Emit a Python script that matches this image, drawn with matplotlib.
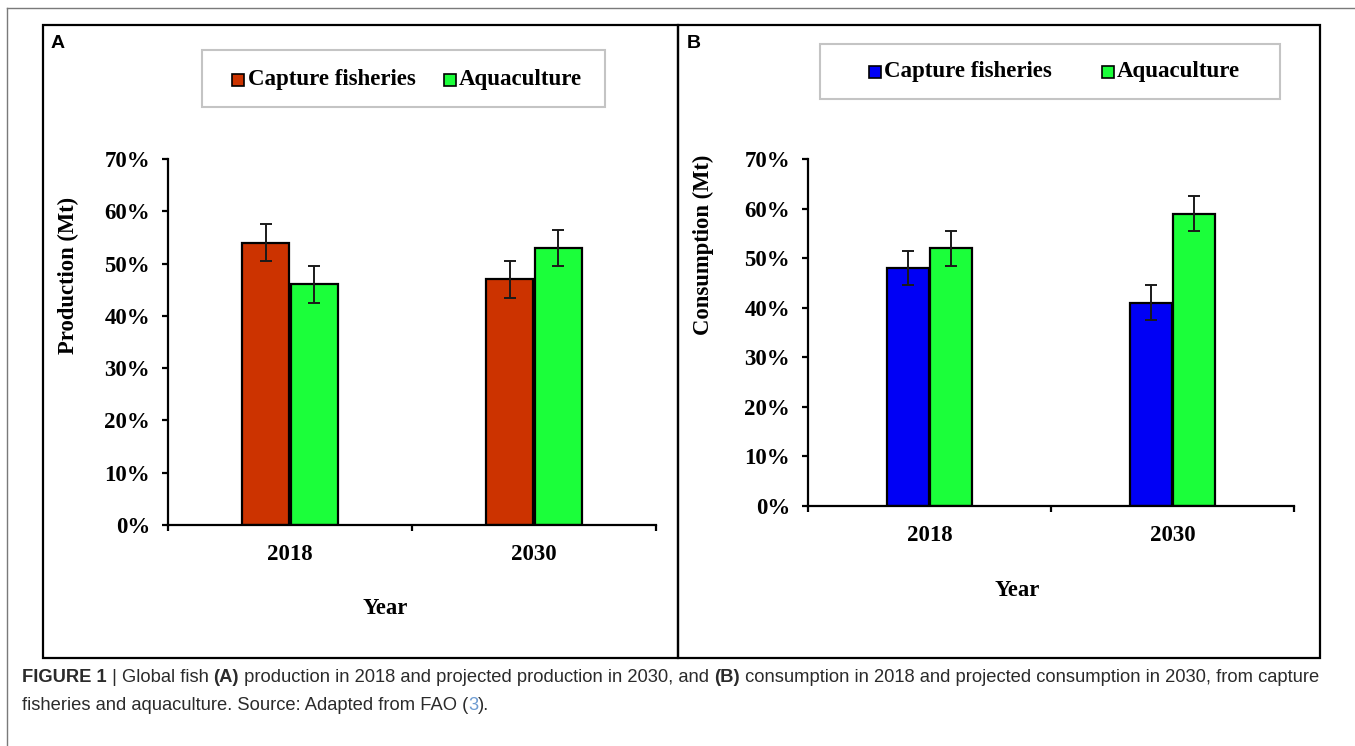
import matplotlib
matplotlib.use('Agg')
import matplotlib.pyplot as plt
from matplotlib.patches import Rectangle
from matplotlib.lines import Line2D

# ---------------- data ----------------
years = ['2018', '2030']
series_names = ['Capture fisheries', 'Aquaculture']
production_capture = [54, 47]
production_aquaculture = [46, 53]
production_capture_err = [3.5, 3.5]
production_aquaculture_err = [3.5, 3.5]
consumption_capture = [48, 41]
consumption_aquaculture = [52, 59]
consumption_capture_err = [3.5, 3.5]
consumption_aquaculture_err = [3.5, 3.5]
ytick_values = [0, 10, 20, 30, 40, 50, 60, 70]
ytick_labels = [f'{v}%' for v in ytick_values]

# ---------------- styles ----------------
W, H = 1355, 746
RED = '#cc3300'
GREEN = '#1bff3a'
BLUE = '#0000f5'
SERIF = 'Liberation Serif'
SANS = 'Liberation Sans'
FS = 16.5

fig = plt.figure(figsize=(W / 100, H / 100), dpi=100)
fig.patch.set_facecolor('white')


def fx(px):
    return px / W


def fy(py):
    return 1 - py / H


def add_axes_px(left, top, right, bottom):
    return fig.add_axes([fx(left), fy(bottom), (right - left) / W, (bottom - top) / H])


def style_axes(ax):
    for s in ['top', 'right']:
        ax.spines[s].set_visible(False)
    for s in ['left', 'bottom']:
        ax.spines[s].set_linewidth(1.6)
        ax.spines[s].set_color('black')
    ax.set_xlim(0.5, 2.5)
    ax.set_ylim(0, 70)
    ax.set_yticks(ytick_values)
    ax.set_yticklabels(ytick_labels, fontfamily=SERIF, fontweight='bold', fontsize=FS)
    ax.tick_params(axis='y', direction='out', length=4.5, width=1.6, pad=8.5)
    ax.set_xticks([1, 2])
    ax.set_xticklabels(years, fontfamily=SERIF, fontweight='bold', fontsize=FS)
    ax.set_xticks([0.5, 1.5, 2.5], minor=True)
    ax.tick_params(axis='x', which='major', length=0, pad=13.5)
    ax.tick_params(axis='x', which='minor', direction='out', length=4.5, width=1.6)
    ax.set_facecolor('none')


def draw_bars(ax, v1, e1, c1, v2, e2, c2, off, width):
    x = [1, 2]
    x1 = [xi - off for xi in x]
    x2 = [xi + off for xi in x]
    ax.bar(x1, v1, width=width, color=c1, edgecolor='black', linewidth=1.6, zorder=2)
    ax.bar(x2, v2, width=width, color=c2, edgecolor='black', linewidth=1.6, zorder=2)
    for xs, vs, es in [(x1, v1, e1), (x2, v2, e2)]:
        ax.errorbar(xs, vs, yerr=es, fmt='none', ecolor='#1a1a1a', elinewidth=1.4,
                    capsize=4.6, capthick=1.4, zorder=3)


# ---------------- panel A ----------------
axA = add_axes_px(168, 159, 656, 525)
style_axes(axA)
draw_bars(axA, production_capture, production_capture_err, RED,
          production_aquaculture, production_aquaculture_err, GREEN, 0.1, 0.19)

# ---------------- panel B ----------------
axB = add_axes_px(808, 159, 1294, 506)
style_axes(axB)
draw_bars(axB, consumption_capture, consumption_capture_err, BLUE,
          consumption_aquaculture, consumption_aquaculture_err, GREEN, 0.09, 0.172)

# axis titles
fig.text(fx(68), fy(275), 'Production (Mt)', rotation=90, ha='center', va='center',
         fontfamily=SERIF, fontweight='bold', fontsize=16.3)
fig.text(fx(703), fy(245), 'Consumption (Mt)', rotation=90, ha='center', va='center',
         fontfamily=SERIF, fontweight='bold', fontsize=16.3)
fig.text(fx(385), fy(608), 'Year', ha='center', va='center',
         fontfamily=SERIF, fontweight='bold', fontsize=16.3)
fig.text(fx(1017), fy(590), 'Year', ha='center', va='center',
         fontfamily=SERIF, fontweight='bold', fontsize=16.3)


# ---------------- decorations (frames) ----------------
def rect_px(l, t, r, b, **kw):
    fig.patches.append(Rectangle((fx(l), fy(b)), (r - l) / W, (b - t) / H,
                                 transform=fig.transFigure, figure=fig, **kw))


# outer light frame
fig.add_artist(Line2D([fx(7), fx(1355)], [fy(8), fy(8)], color='#7a7a7a', lw=1.0,
                      transform=fig.transFigure))
fig.add_artist(Line2D([fx(7), fx(7)], [fy(8), fy(746)], color='#7a7a7a', lw=1.0,
                      transform=fig.transFigure))
# panel boxes
rect_px(43, 25, 678, 658, facecolor='none', edgecolor='black', lw=1.6)
rect_px(678, 25, 1320, 658, facecolor='none', edgecolor='black', lw=1.6)

fig.text(fx(51), fy(43), 'A', ha='left', va='center', fontfamily=SANS,
         fontweight='bold', fontsize=14)
fig.text(fx(687), fy(43), 'B', ha='left', va='center', fontfamily=SANS,
         fontweight='bold', fontsize=14)


# legends
def legend_px(box, items, yc):
    l, t, r, b = box
    rect_px(l, t, r, b, facecolor='white', edgecolor='#c4c4c4', lw=1.5)
    for (mx, tx, color, label) in items:
        rect_px(mx, yc - 6, mx + 12, yc + 6, facecolor=color, edgecolor='black', lw=1.2)
        fig.text(fx(tx), fy(yc), label, ha='left', va='center', fontfamily=SERIF,
                 fontweight='bold', fontsize=16.5)


legend_px((202, 50, 605, 107),
          [(232, 248, RED, series_names[0]), (444, 459, GREEN, series_names[1])], 80)
legend_px((820, 44, 1280, 99),
          [(869, 884, BLUE, series_names[0]), (1102, 1117, GREEN, series_names[1])], 72)

# ---------------- caption ----------------
renderer = fig.canvas.get_renderer()
CAP = 13.2
CAPCOL = '#2b2b2b'


def text_width(s, weight):
    t = fig.text(0, 0, s + '.', fontsize=CAP, fontweight=weight, fontfamily=SANS)
    d = fig.text(0, 0, '.', fontsize=CAP, fontweight=weight, fontfamily=SANS)
    w = t.get_window_extent(renderer).width - d.get_window_extent(renderer).width
    t.remove()
    d.remove()
    return w


def draw_runs(x_px, y_px, runs):
    x = x_px
    for s, weight, color in runs:
        fig.text(fx(x), fy(y_px), s, fontsize=CAP, fontweight=weight, color=color,
                 fontfamily=SANS, ha='left', va='center')
        x += text_width(s, weight)


draw_runs(22, 678, [
    ('FIGURE 1', 'bold', CAPCOL),
    (' | Global fish ', 'normal', CAPCOL),
    ('(A)', 'bold', CAPCOL),
    (' production in 2018 and projected production in 2030, and ', 'normal', CAPCOL),
    ('(B)', 'bold', CAPCOL),
    (' consumption in 2018 and projected consumption in 2030, from capture', 'normal', CAPCOL),
])
draw_runs(22, 706, [
    ('fisheries and aquaculture. Source: Adapted from FAO (', 'normal', CAPCOL),
    ('3', 'normal', '#6d9bd1'),
    (').', 'normal', CAPCOL),
])

fig.savefig('out.png', dpi=100, facecolor='white')
